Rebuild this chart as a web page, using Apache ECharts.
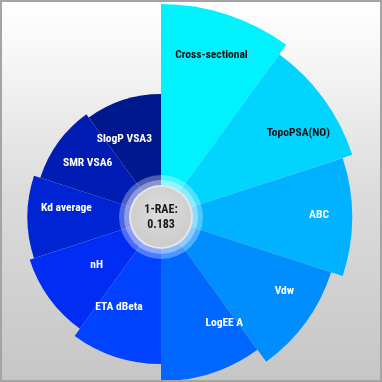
<!DOCTYPE html>
<html>
<head>
<meta charset="utf-8">
<script src="https://cdn.jsdelivr.net/npm/echarts@6/dist/echarts.min.js"></script>
<style>
html,body{margin:0;padding:0;}
#c{width:382px;height:382px;box-sizing:border-box;border:2px solid #a4a4a4;background:linear-gradient(to bottom,#ffffff 0%,#f6f6f6 15%,#dcdcdc 50%,#c6c6c6 100%);}
</style>
</head>
<body>
<div id="c"></div>
<script>
var categories = ['Cross-sectional','TopoPSA(NO)','ABC','Vdw','LogEE A','ETA dBeta','nH','Kd average','SMR VSA6','SlogP VSA3'];
var values = [1.00, 0.944, 0.897, 0.840, 0.770, 0.690, 0.648, 0.627, 0.596, 0.577];
var centerTitle = '1-RAE:';
var centerValue = '0.183';

var palette = ['#00f2ff','#00d4ff','#00b2ff','#008eff','#0068ff','#0042ff','#002cf4','#0024d4','#001cb2','#00188e'];
var labelColors = ['#111','#111','#fff','#fff','#fff','#fff','#fff','#fff','#fff','#fff'];
var labelNudge = [[-3,-3],[7,5],[7,-8],[11,-14],[25,-18],[-9,-18],[15,-15],[-1,-15],[-3,-9],[-11,-5]];

var cx = 159, cy = 215;
var fontFam = '"Roboto Condensed","DejaVu Sans Condensed",Roboto';

var chart = echarts.init(document.getElementById('c'));
var data = values.map(function(v, i){
  return {
    value: v,
    itemStyle: {color: palette[i]},
    label: {color: labelColors[i], offset: labelNudge[i]}
  };
});
chart.setOption({
  animation: false,
  polar: {center: [cx, cy], radius: 213},
  angleAxis: {type: 'category', data: categories, startAngle: 90, clockwise: true, show: false},
  radiusAxis: {type: 'value', min: 0, max: 1, show: false},
  series: [{
    type: 'bar',
    coordinateSystem: 'polar',
    barCategoryGap: '0%',
    data: data,
    label: {
      show: true,
      position: 'insideEnd',
      distance: 40,
      rotate: 0,
      formatter: '{b}',
      fontFamily: fontFam,
      fontWeight: 'bold',
      fontSize: 11.5
    }
  }],
  graphic: [
    {type: 'circle', shape: {cx: cx, cy: cy, r: 42}, style: {fill: 'rgba(255,255,255,0.3)'}, z: 100},
    {type: 'circle', shape: {cx: cx, cy: cy, r: 37}, style: {fill: 'rgba(255,255,255,0.35)'}, z: 101},
    {type: 'circle', shape: {cx: cx, cy: cy, r: 32}, style: {fill: '#e6e6e6'}, z: 102},
    {type: 'circle', shape: {cx: cx, cy: cy, r: 30}, style: {fill: new echarts.graphic.RadialGradient(0.5, 0.4, 0.7, [{offset: 0, color: '#dedede'}, {offset: 1, color: '#c8c8c8'}])}, z: 103},
    {type: 'text', x: cx, y: cy - 7, style: {text: centerTitle, font: 'bold 12px ' + fontFam, fill: '#1a1a1a', align: 'center', verticalAlign: 'middle'}, z: 104},
    {type: 'text', x: cx, y: cy + 8, style: {text: centerValue, font: 'bold 12px ' + fontFam, fill: '#1a1a1a', align: 'center', verticalAlign: 'middle'}, z: 104}
  ]
});
</script>
</body>
</html>
